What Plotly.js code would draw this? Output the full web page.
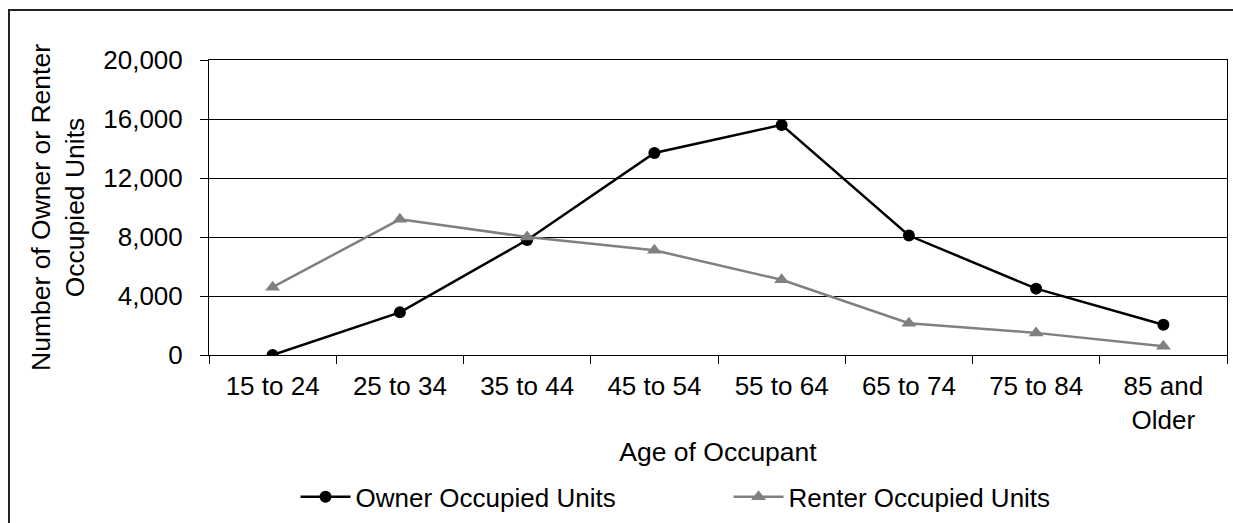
<!DOCTYPE html>
<html>
<head>
<meta charset="utf-8">
<script src="https://cdn.plot.ly/plotly-3.0.1.min.js"></script>
<style>
  html, body { margin: 0; padding: 0; background: #fff; overflow: hidden; }
  #chart { position: absolute; left: 0; top: 0; width: 1233px; height: 523px; }
  #frame { position: absolute; left: 8px; top: 9px; width: 1400px; height: 700px;
           border-top: 2px solid #222; border-left: 2px solid #222; pointer-events: none; }
</style>
</head>
<body>
<div id="chart"></div>
<div id="frame"></div>
<script>
const categories = ["15 to 24", "25 to 34", "35 to 44", "45 to 54", "55 to 64", "65 to 74", "75 to 84", "85 and<br>Older"];
const ownerUnits = [0, 2890, 7800, 13700, 15600, 8100, 4500, 2050];
const renterUnits = [4600, 9200, 8000, 7100, 5100, 2150, 1500, 600];
const yTicks = [0, 4000, 8000, 12000, 16000, 20000];
const yTickLabels = ["0", "4,000", "8,000", "12,000", "16,000", "20,000"];

const FONT = "Liberation Sans, Arial, sans-serif";

const traces = [
  {
    x: categories, y: ownerUnits, name: "Owner Occupied Units",
    type: "scatter", mode: "lines+markers",
    line: { color: "#000000", width: 2.5 },
    marker: { color: "#000000", size: 12, symbol: "circle" }
  },
  {
    x: categories, y: renterUnits, name: "Renter Occupied Units",
    type: "scatter", mode: "lines+markers",
    line: { color: "#808080", width: 2.5 },
    marker: { color: "#808080", size: 13, symbol: "triangle-up" }
  }
];

const layout = {
  width: 1233, height: 523,
  margin: { l: 209, r: 6, t: 60, b: 168 },
  paper_bgcolor: "#ffffff", plot_bgcolor: "#ffffff",
  font: { family: FONT, size: 26, color: "#000000" },
  showlegend: true,
  legend: {
    orientation: "h", x: 0.085, xanchor: "left",
    yref: "container", y: 0.05, yanchor: "middle",
    font: { family: FONT, size: 26, color: "#000000" },
    itemwidth: 50, entrywidth: 368, entrywidthmode: "pixels",
    bgcolor: "rgba(0,0,0,0)"
  },
  xaxis: {
    type: "category",
    range: [-0.5, 7.5],
    showline: true, linecolor: "#000000", linewidth: 1, mirror: true,
    ticks: "outside", tickson: "boundaries", ticklen: 8, tickcolor: "#000000",
    showgrid: false, zeroline: false,
    tickfont: { family: FONT, size: 26, color: "#000000" },
    ticklabelstandoff: 8,
    title: { text: "Age of Occupant", font: { family: FONT, size: 26.5, color: "#000000" }, standoff: 8 },
    automargin: false
  },
  yaxis: {
    range: [0, 20000],
    tickvals: yTicks, ticktext: yTickLabels,
    showline: true, linecolor: "#000000", linewidth: 1, mirror: true,
    ticks: "outside", ticklen: 8, tickcolor: "#000000",
    showgrid: true, gridcolor: "#000000", gridwidth: 1,
    zeroline: false,
    tickfont: { family: FONT, size: 26, color: "#000000" },
    ticklabelstandoff: 12,
    title: { text: "Number of Owner or Renter<br>Occupied Units", font: { family: FONT, size: 26.5, color: "#000000" }, standoff: 10 },
    automargin: false
  }
};

Plotly.newPlot("chart", traces, layout, { displayModeBar: false, staticPlot: true });
</script>
</body>
</html>
